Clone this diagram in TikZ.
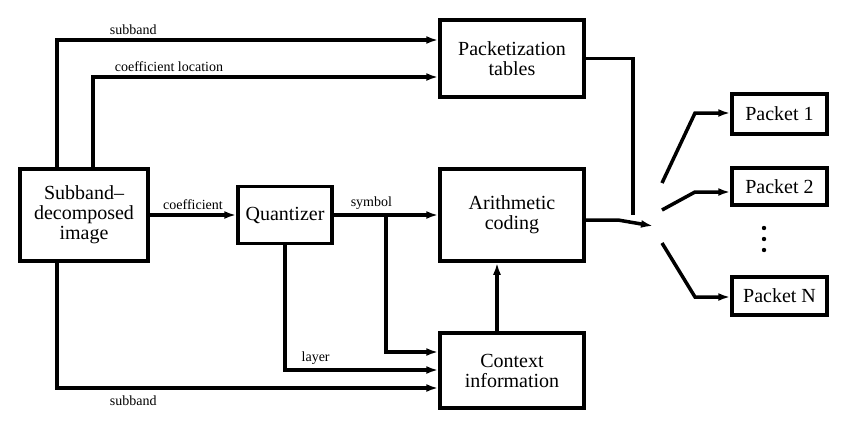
\documentclass[tikz,border=0pt]{standalone}
\usepackage{fontspec}
\setmainfont{Liberation Serif}
\usetikzlibrary{arrows.meta}

\begin{document}
\begin{tikzpicture}[x=1pt,y=-1pt]
\tikzset{block/.style={draw, line width=3.5pt, align=center, inner sep=0pt, font=\fontsize{20}{20}\selectfont}}
\tikzset{wire/.style={line width=3.5pt}}
\tikzset{feed/.style={wire, -{Latex[length=12pt,width=8pt]}}}
\tikzset{tag/.style={font=\fontsize{14}{14}\selectfont, inner sep=4pt}}
\useasboundingbox (0,0) rectangle (850,429);
\node[block, minimum width=128pt, minimum height=92pt] (img) at (84,215) {Subband--\\decomposed\\image};
\node[block, minimum width=94pt, minimum height=57pt] (quant) at (285,215) {Quantizer};
\node[block, minimum width=144pt, minimum height=77pt] (pack) at (512,58.5) {Packetization\\tables};
\node[block, minimum width=144pt, minimum height=92pt] (arith) at (512,215) {Arithmetic\\coding};
\node[block, minimum width=144pt, minimum height=75pt] (ctx) at (512,370.5) {Context\\information};
\node[block, minimum width=95pt, minimum height=40pt] (p1) at (779.5,114) {Packet 1};
\node[block, minimum width=95pt, minimum height=37pt] (p2) at (779.5,186.5) {Packet 2};
\node[block, minimum width=95pt, minimum height=38pt] (pN) at (779.5,296) {Packet N};
\foreach \y in {228,239,250}
  \fill (764,\y) circle (2.2pt);
\coordinate (sbtop) at (57,40);
\coordinate (cloc) at (93,77);
\coordinate (sym) at (386,352);
\coordinate (lay) at (285,370);
\coordinate (sbbot) at (57,388);
\coordinate (up) at (497,0);
\coordinate (merge) at (633,215);
\coordinate (sw) at (618,220);
\coordinate (swtip) at (653,226);
\coordinate (f1) at (662,183);
\coordinate (g1) at (695,113);
\coordinate (f2) at (662,210);
\coordinate (g2) at (695,192);
\coordinate (fN) at (662,243);
\coordinate (gN) at (695,297);
\draw[feed] (img.north -| sbtop) |- node[tag, above, pos=0.6] {subband} (pack.west |- sbtop);
\draw[feed] (img.north -| cloc) |- node[tag, above, pos=0.61] {coefficient location} (pack.west |- cloc);
\draw[feed] (img) -- node[tag, above] {coefficient} (quant);
\draw[feed] (quant) -- node[tag, above, pos=0.36] {symbol} (arith);
\draw[feed] (quant.east -| sym) |- (ctx.west |- sym);
\draw[feed] (quant.south -| lay) |- node[tag, above, pos=0.6] {layer} (ctx.west |- lay);
\draw[feed] (img.south -| sbbot) |- node[tag, below, inner sep=6pt, pos=0.6] {subband} (ctx.west |- sbbot);
\draw[feed] (ctx.north -| up) -- (arith.south -| up);
\draw[wire] (pack.east) -| (merge);
\draw[feed] (arith.east |- sw) -- (sw) -- (swtip);
\draw[feed] (f1) -- (g1) -- (p1.west |- g1);
\draw[feed] (f2) -- (g2) -- (p2.west |- g2);
\draw[feed] (fN) -- (gN) -- (pN.west |- gN);
\end{tikzpicture}
\end{document}
